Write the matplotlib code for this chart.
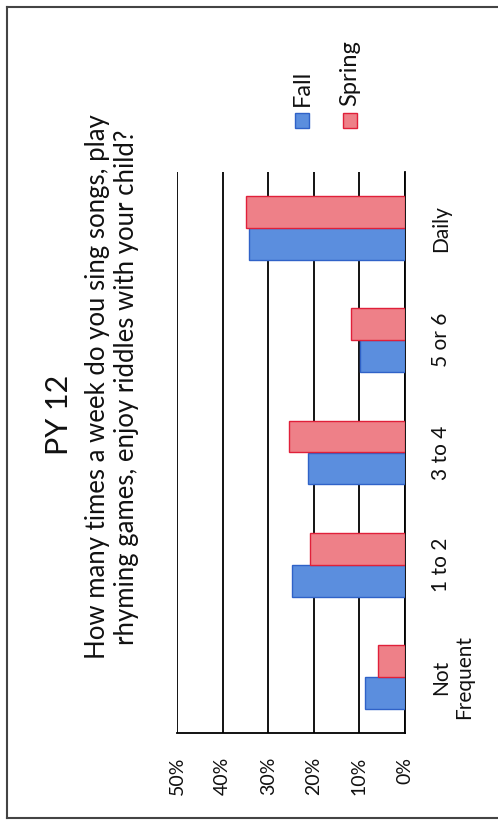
import matplotlib
matplotlib.use("Agg")
import matplotlib.pyplot as plt
from matplotlib.patches import Rectangle
from matplotlib.lines import Line2D
import numpy as np

plt.rcParams['font.family'] = ['Lato', 'DejaVu Sans']

# ---- data ----
categories = ["Not\nFrequent", "1 to 2", "3 to 4", "5 or 6", "Daily"]
fall = [8.8, 24.8, 21.3, 9.9, 34.2]
spring = [5.9, 20.8, 25.4, 11.8, 34.9]
value_ticks = [0, 10, 20, 30, 40, 50]
tick_labels = ["0%", "10%", "20%", "30%", "40%", "50%"]
series_names = ["Fall", "Spring"]
title = "PY 12"
subtitle = "How many times a week do you sing songs, play\nrhyming games, enjoy riddles with your child?"

fall_face, fall_edge = "#5B8EDE", "#2F62C8"
spring_face, spring_edge = "#EE8088", "#E0203A"
text_color = "#111111"

W, H = 498, 821
fig = plt.figure(figsize=(W / 100, H / 100), dpi=100)
fig.patch.set_facecolor("white")

def fx(px):
    return px / W

def fy(py):
    return 1 - py / H

# axes: x(values) from px 177 (50%) to 405 (0%), y(categories) from 172 to 733
ax = fig.add_axes([fx(177), fy(733), fx(405) - fx(177), (733 - 172) / H])
ax.set_facecolor("none")

y = np.arange(len(categories))
bh = 0.285
ax.barh(y - bh / 2, fall, height=bh, color=fall_face, edgecolor=fall_edge, linewidth=1.0, zorder=3)
ax.barh(y + bh / 2, spring, height=bh, color=spring_face, edgecolor=spring_edge, linewidth=1.0, zorder=3)

ax.set_xlim(50, 0)
ax.set_ylim(-0.5, len(categories) - 0.5)

ax.set_xticks(value_ticks)
ax.set_xticklabels(tick_labels, rotation=90, va="top")
ax.tick_params(axis="x", length=0, pad=17, labelsize=14, colors=text_color)
ax.xaxis.grid(True, color="black", linewidth=1.3, zorder=0)

ax.yaxis.tick_right()
ax.set_yticks(y)
ax.set_yticklabels(categories, rotation=90, va="center", ha="left")
ax.tick_params(axis="y", length=0, pad=19, labelsize=15, colors=text_color)
for lab in ax.get_yticklabels():
    lab.set_multialignment("center")

for s in ["top", "left"]:
    ax.spines[s].set_visible(False)
ax.spines["bottom"].set_color("black")
ax.spines["bottom"].set_linewidth(1.3)
ax.spines["right"].set_color("black")
ax.spines["right"].set_linewidth(1.3)

# titles
fig.text(fx(59), fy(415), title, rotation=90, ha="center", va="center",
         fontsize=22, color=text_color)
fig.text(fx(112), fy(387), subtitle, rotation=90, ha="center", va="center",
         multialignment="center", fontsize=18.5, color=text_color, linespacing=1.2)

# legend (manual, rotated)
for name, face, edge, xc in [(series_names[0], fall_face, fall_edge, 302),
                             (series_names[1], spring_face, spring_edge, 349.5)]:
    fig.patches.append(Rectangle((fx(xc - 7), fy(128)), fx(14), 15 / H,
                                 transform=fig.transFigure, facecolor=face,
                                 edgecolor=edge, linewidth=1.0))
    fig.text(fx(xc + 0.5), fy(106), name, rotation=90, ha="center", va="bottom",
             fontsize=17, color=text_color)

# page border (scan frame)
for xs, ys in [([7, 7], [7, 818]), ([7, 498], [7, 7]), ([7, 498], [818, 818])]:
    fig.lines.append(Line2D([fx(v) for v in xs], [fy(v) for v in ys],
                            transform=fig.transFigure, color="#444444", linewidth=1.5))

fig.savefig("out.png", dpi=100, facecolor="white")
